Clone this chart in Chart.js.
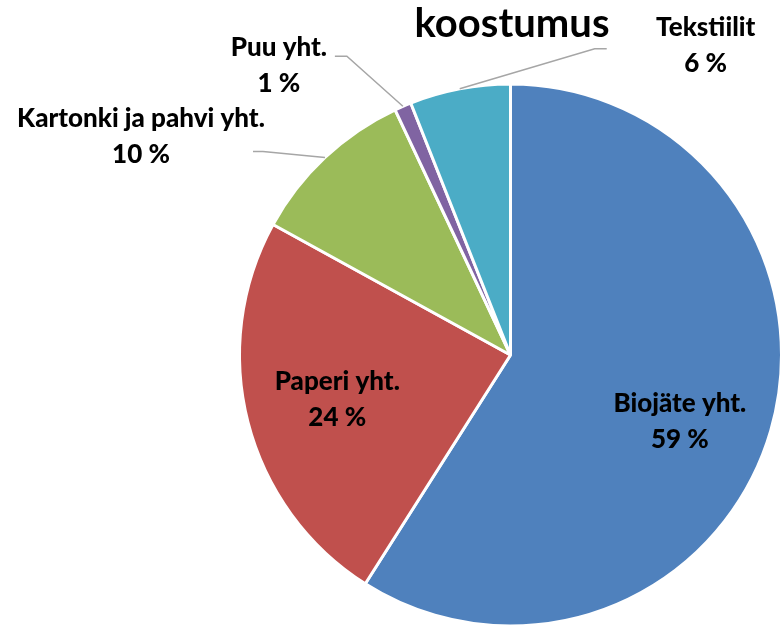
<!DOCTYPE html>
<html lang="fi">
<head>
<meta charset="UTF-8">
<title>koostumus</title>
<script src="https://cdn.jsdelivr.net/npm/chart.js@4.4.1/dist/chart.umd.min.js"></script>
<style>
  body { margin: 0; background: #fff; }
  .frame { position: relative; width: 781px; height: 625px; overflow: hidden; }
  .frame canvas { position: absolute; left: 0; top: 0; }
</style>
</head>
<body>
<div class="frame">
  <canvas id="pie" width="1021" height="710"></canvas>
</div>
<script>
// waste composition, shares in percent
var categories = ['Biojäte yht.', 'Paperi yht.', 'Kartonki ja pahvi yht.', 'Puu yht.', 'Tekstiilit'];
var shares = [59, 24, 10, 1, 6];
var colors = ['#4F81BD', '#C0504D', '#9BBB59', '#8064A2', '#4BACC6'];
var chartTitle = 'koostumus';

// where each label goes: inside = fraction of the radius (plus a nudge),
// otherwise elbow / end of leader line and text centre, relative to the arc edge
var labelPlacement = [
  { inside: 0.67, nudge: [-5, 16] },
  { inside: 0.66, nudge: [0, 0] },
  { elbow: [-62, -6], end: [-72, -6], text: [-184, -21] },
  { elbow: [-56, -50], end: [-68, -50], text: [-124, -41] },
  { elbow: [135, -40], end: [147, -40], text: [246, -43] }
];

var labelFont = '900 26px Lato';
var lineGap = 36;

var sliceLabels = {
  id: 'sliceLabels',
  afterDatasetsDraw: function (chart) {
    var ctx = chart.ctx;
    var meta = chart.getDatasetMeta(0);
    ctx.save();
    meta.data.forEach(function (arc, i) {
      var p = arc.getProps(['x', 'y', 'startAngle', 'endAngle', 'outerRadius'], true);
      var mid = (p.startAngle + p.endAngle) / 2;
      var place = labelPlacement[i];
      var cx, cy;
      if (place.inside) {
        cx = p.x + Math.cos(mid) * p.outerRadius * place.inside + place.nudge[0];
        cy = p.y + Math.sin(mid) * p.outerRadius * place.inside + place.nudge[1];
      } else {
        var ex = p.x + Math.cos(mid) * p.outerRadius;
        var ey = p.y + Math.sin(mid) * p.outerRadius;
        ctx.strokeStyle = '#A6A6A6';
        ctx.lineWidth = 1.5;
        ctx.beginPath();
        ctx.moveTo(ex, ey);
        ctx.lineTo(ex + place.elbow[0], ey + place.elbow[1]);
        ctx.lineTo(ex + place.end[0], ey + place.end[1]);
        ctx.stroke();
        cx = ex + place.text[0];
        cy = ey + place.text[1];
      }
      ctx.font = labelFont;
      ctx.fillStyle = '#000';
      ctx.textAlign = 'center';
      ctx.textBaseline = 'middle';
      ctx.fillText(categories[i], cx, cy - lineGap / 2);
      ctx.fillText(shares[i] + ' %', cx, cy + lineGap / 2);
    });
    ctx.restore();
  },
  afterDraw: function (chart) {
    var ctx = chart.ctx;
    ctx.save();
    ctx.font = 'bold 40px Lato';
    ctx.fillStyle = '#000';
    ctx.textAlign = 'center';
    ctx.textBaseline = 'alphabetic';
    ctx.fillText(chartTitle, 512, 37);
    ctx.restore();
  }
};

new Chart(document.getElementById('pie'), {
  type: 'pie',
  data: {
    labels: categories,
    datasets: [{
      data: shares,
      backgroundColor: colors,
      borderColor: '#FFFFFF',
      borderWidth: 3
    }]
  },
  options: {
    responsive: false,
    animation: false,
    events: [],
    radius: 271,
    layout: { padding: 84 },
    plugins: {
      legend: { display: false },
      tooltip: { enabled: false },
      title: { display: false }
    }
  },
  plugins: [sliceLabels]
});
</script>
</body>
</html>
